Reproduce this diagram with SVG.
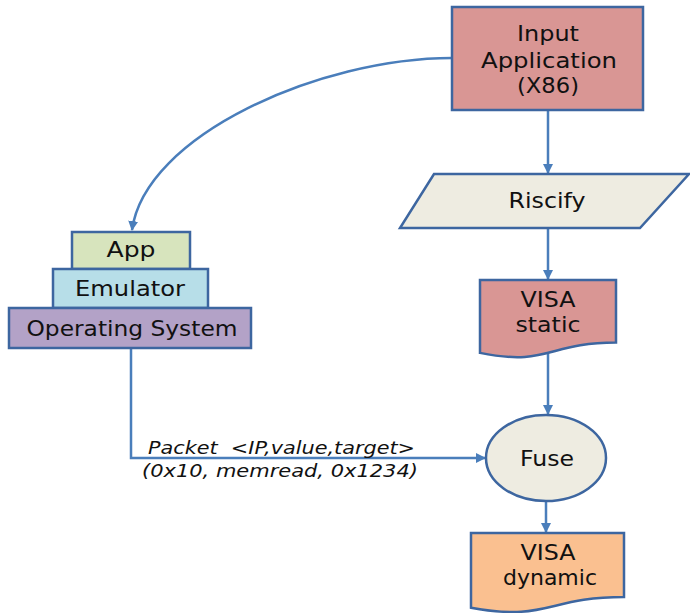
<svg xmlns="http://www.w3.org/2000/svg" width="690" height="613" viewBox="0 0 690 613">
  <style>
    .node { stroke: #3d66a0; stroke-width: 2.5; }
    .lbl { font-family: "DejaVu Sans", "Open Sans", sans-serif; font-size: 22px; fill: #111; }
    .edge { fill: none; stroke: #4a7ebb; stroke-width: 2.5; }
    .note { font-family: "DejaVu Sans", "Open Sans", sans-serif; font-size: 17.5px; font-style: italic; fill: #111; }
  </style>
  <defs>
    <marker id="arrow" viewBox="0 0 10 10" refX="9" refY="5" markerWidth="4" markerHeight="4" orient="auto" markerUnits="strokeWidth">
      <path d="M0,0 L10,5 L0,10 Z" fill="#4a7ebb"/>
    </marker>
  </defs>
  <rect width="690" height="613" fill="#ffffff"/>

  <g id="connectors">
    <path class="edge" d="M452,58 C320,58 145,135 132,230" marker-end="url(#arrow)"/>
    <path class="edge" d="M548,110 V173" marker-end="url(#arrow)"/>
    <path class="edge" d="M548,228 V279" marker-end="url(#arrow)"/>
    <path class="edge" d="M548,346 V414" marker-end="url(#arrow)"/>
    <path class="edge" d="M546,501 V532" marker-end="url(#arrow)"/>
    <path class="edge" d="M131,348 V458 H485" marker-end="url(#arrow)"/>
    <text class="note" x="148" y="454" textLength="267" lengthAdjust="spacingAndGlyphs">Packet&#160;&#160;&lt;IP,value,target&gt;</text>
    <text class="note" x="142" y="477" textLength="276" lengthAdjust="spacingAndGlyphs">(0x10, memread, 0x1234)</text>
  </g>

  <g id="input-application">
    <rect class="node" x="452" y="7" width="191" height="103" fill="#d99694"/>
    <text class="lbl" x="548" y="41" text-anchor="middle" textLength="62" lengthAdjust="spacingAndGlyphs">Input</text>
    <text class="lbl" x="549" y="68" text-anchor="middle" textLength="136" lengthAdjust="spacingAndGlyphs">Application</text>
    <text class="lbl" x="548" y="93" text-anchor="middle" textLength="62" lengthAdjust="spacingAndGlyphs">(X86)</text>
  </g>

  <g id="riscify">
    <polygon class="node" points="434,174 689,174 640,228 400,228" fill="#eeece1"/>
    <text class="lbl" x="547" y="208" text-anchor="middle" textLength="77" lengthAdjust="spacingAndGlyphs">Riscify</text>
  </g>

  <g id="visa-static">
    <path class="node" d="M480,280 H616 V342.6 C548,342.6 548,366.8 480,352.9 Z" fill="#d99694"/>
    <text class="lbl" x="548" y="307" text-anchor="middle" textLength="55" lengthAdjust="spacingAndGlyphs">VISA</text>
    <text class="lbl" x="548" y="332" text-anchor="middle" textLength="65" lengthAdjust="spacingAndGlyphs">static</text>
  </g>

  <g id="fuse">
    <ellipse class="node" cx="546" cy="458" rx="60" ry="43" fill="#eeece1"/>
    <text class="lbl" x="547" y="466" text-anchor="middle" textLength="54" lengthAdjust="spacingAndGlyphs">Fuse</text>
  </g>

  <g id="visa-dynamic">
    <path class="node" d="M471,533 H624 V597 C547.5,597 547.5,621.8 471,607.7 Z" fill="#fac090"/>
    <text class="lbl" x="548" y="560" text-anchor="middle" textLength="55" lengthAdjust="spacingAndGlyphs">VISA</text>
    <text class="lbl" x="550" y="585" text-anchor="middle" textLength="94" lengthAdjust="spacingAndGlyphs">dynamic</text>
  </g>

  <g id="app">
    <rect class="node" x="72" y="232" width="118" height="37" fill="#d7e4bd"/>
    <text class="lbl" x="131" y="257" text-anchor="middle" textLength="49" lengthAdjust="spacingAndGlyphs">App</text>
  </g>

  <g id="emulator">
    <rect class="node" x="53" y="269" width="155" height="39" fill="#b7dee8"/>
    <text class="lbl" x="130" y="296" text-anchor="middle" textLength="110" lengthAdjust="spacingAndGlyphs">Emulator</text>
  </g>

  <g id="operating-system">
    <rect class="node" x="9" y="308" width="242" height="40" fill="#b3a2c7"/>
    <text class="lbl" x="132" y="336" text-anchor="middle" textLength="211" lengthAdjust="spacingAndGlyphs">Operating System</text>
  </g>
</svg>
